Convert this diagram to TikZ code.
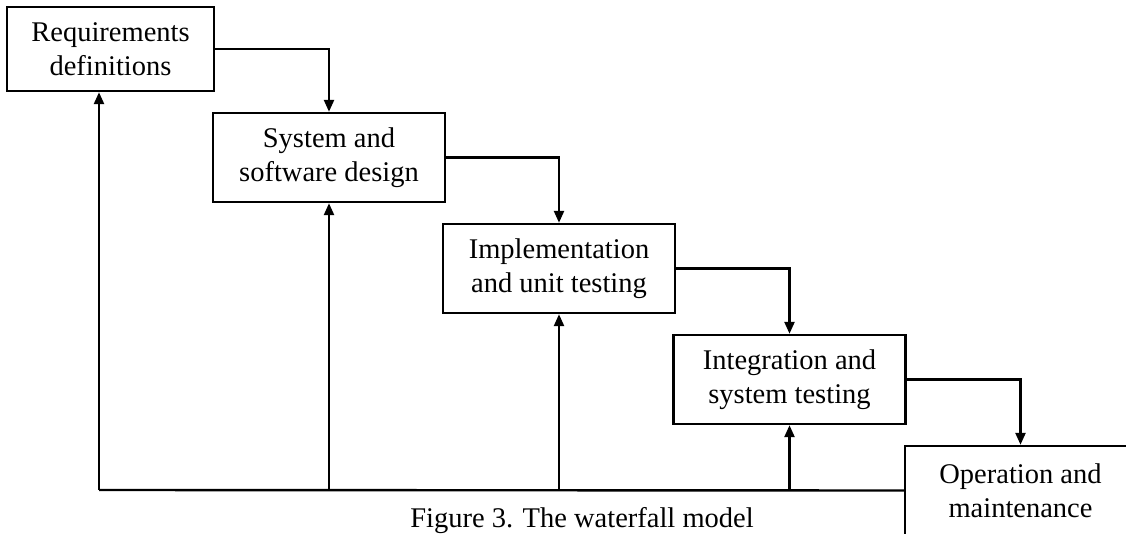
\documentclass[tikz,border=0pt]{standalone}
\usepackage{fontspec}
\setmainfont{Liberation Serif}
\usetikzlibrary{arrows.meta}

\begin{document}
\begin{tikzpicture}[>={Triangle[length=12pt,width=10pt]},x=1pt,y=-1pt,line width=2.4pt]
	\tikzset{stagebox/.style={draw,align=center,minimum width=232pt,minimum height=89pt,inner sep=0pt,font=\fontsize{28.5}{34}\selectfont}}
	%\useasboundingbox[draw](0,0) rectangle(1126,534);
	\clip (0,0) rectangle (1126,534);
	% % % % % % % % % % % % % % %
	%五个阶段
	\node[stagebox,minimum width=207pt,minimum height=84pt] (req) at (110.5,49) {Requirements\\definitions};
	\node[stagebox] (design) at (329,157.5) {System and\\software design};
	\node[stagebox] (impl) at (559,268.5) {Implementation\\and unit testing};
	\node[stagebox] (integ) at (789.5,379.5) {Integration and\\system testing};
	\node[stagebox,minimum width=231pt] (oper) at (1020.5,490.5) {Operation and\\maintenance};
	%向下的箭头
	\draw[->] (req.east) -| (design.north);
	\draw[->] (design.east) -| (impl.north);
	\draw[->] (impl.east) -| (integ.north);
	\draw[->] (integ.east) -| (oper.north);
	%反馈线
	\coordinate (fb) at (99,490);
	\draw (fb) -- (oper.west);
	\draw[->] (fb) -- (fb |- req.south);
	\foreach \n in {design,impl,integ} {
		\draw[->] (\n.south |- fb) -- (\n.south);
	}
	%标题
	\node[anchor=base,font=\fontsize{28.5}{34}\selectfont] (cap) at (582,527) {Figure 3. The waterfall model};
\end{tikzpicture}
\end{document}
